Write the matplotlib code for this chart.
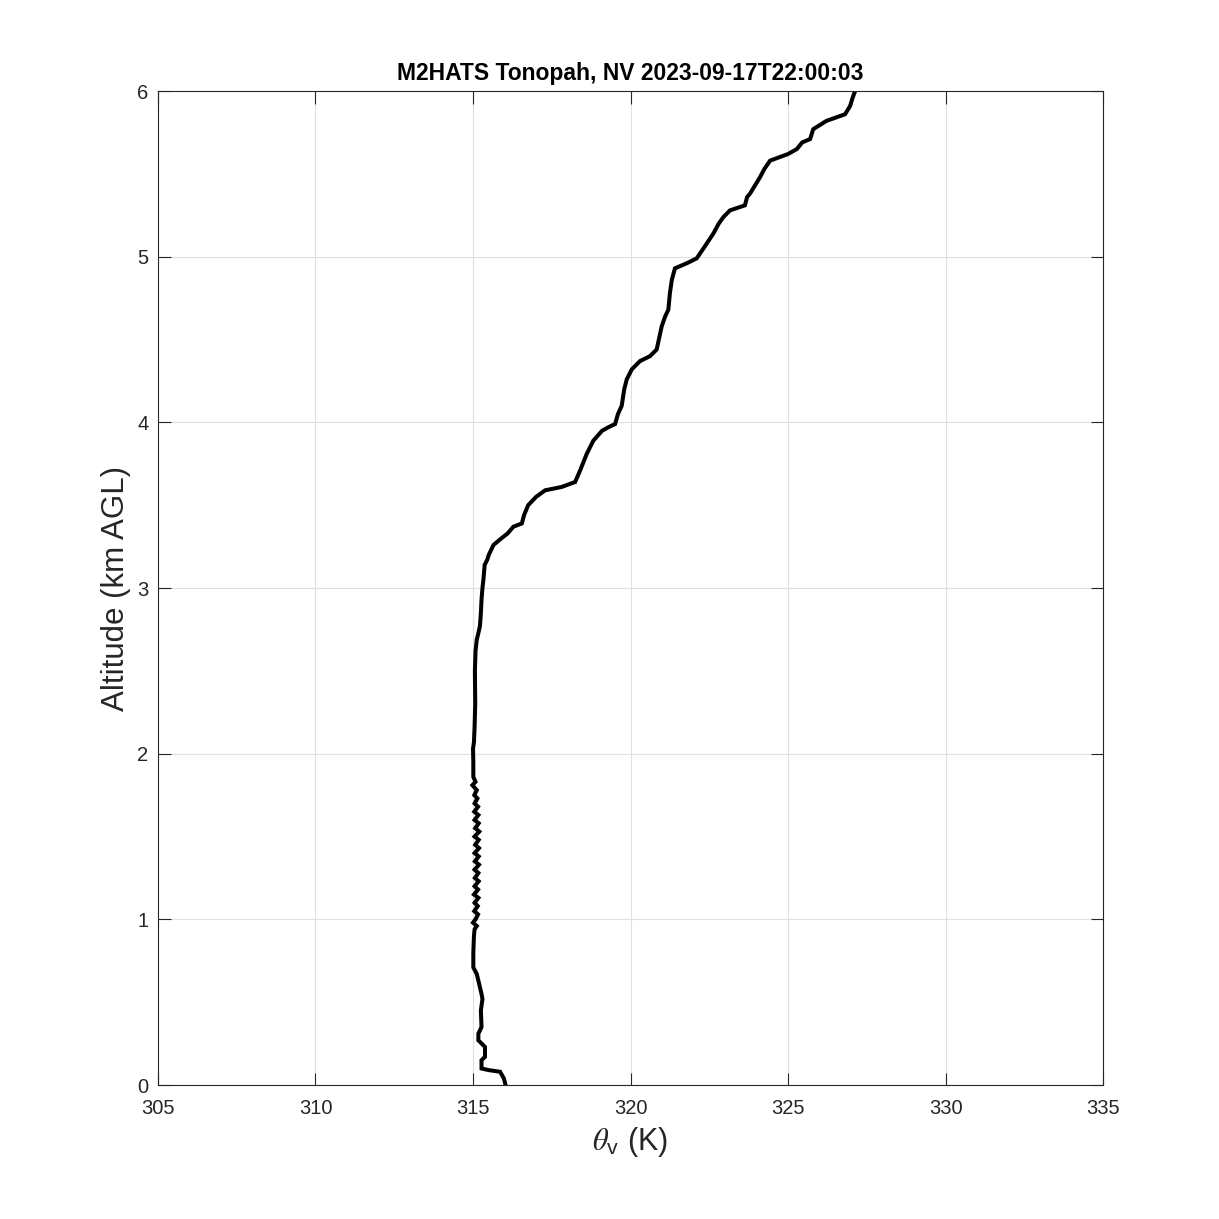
import numpy as np
import matplotlib
matplotlib.use("Agg")
import matplotlib.pyplot as plt

# virtual potential temperature profile
theta_v = [316.02, 315.98, 315.86, 315.50, 315.27, 315.27, 315.38, 315.38, 315.17, 315.17,
           315.27, 315.25, 315.30, 315.27, 315.22, 315.12, 315.01, 315.01, 315.03, 315.05,
           # noisy stretch ~1-1.8 km
           315.12, 315.00, 315.08, 315.16, 315.04, 315.15, 315.05, 315.17, 315.03, 315.16,
           315.05, 315.18, 315.06, 315.17, 315.05, 315.19, 315.06, 315.18, 315.05, 315.19,
           315.07, 315.18, 315.05, 315.20, 315.07, 315.18, 315.05, 315.17, 315.04, 315.16,
           315.05, 315.14, 315.04, 315.12, 314.98, 315.08,
           315.01, 315.01, 315.00, 315.03, 315.05, 315.07, 315.06, 315.08, 315.12, 315.16,
           315.22, 315.25, 315.27, 315.30, 315.33, 315.37, 315.45, 315.50, 315.65, 315.90,
           316.10, 316.28, 316.55, 316.62, 316.75, 317.00, 317.29, 317.81, 318.24, 318.40,
           318.61, 318.82, 319.10, 319.29, 319.51, 319.60, 319.72, 319.80, 319.88, 320.04,
           320.30, 320.62, 320.83, 320.90, 320.99, 321.10, 321.20, 321.25, 321.31, 321.41,
           321.78, 322.10, 322.35, 322.63, 322.80, 322.95, 323.16, 323.63, 323.70, 323.79,
           323.95, 324.11, 324.25, 324.43, 325.00, 325.28, 325.45, 325.70, 325.80, 326.22,
           326.81, 326.97, 327.05, 327.13]
alt_km = [0.01, 0.04, 0.08, 0.09, 0.10, 0.15, 0.17, 0.23, 0.27, 0.31,
          0.35, 0.45, 0.52, 0.55, 0.59, 0.67, 0.71, 0.80, 0.90, 0.94,
          0.96, 0.98, 1.00, 1.03, 1.05, 1.08, 1.10, 1.13, 1.15, 1.18,
          1.20, 1.23, 1.25, 1.28, 1.30, 1.33, 1.35, 1.38, 1.40, 1.43,
          1.45, 1.48, 1.50, 1.53, 1.55, 1.58, 1.60, 1.63, 1.65, 1.68,
          1.70, 1.73, 1.75, 1.78, 1.81, 1.83,
          1.86, 1.95, 2.03, 2.07, 2.16, 2.30, 2.50, 2.62, 2.69, 2.72,
          2.77, 2.85, 2.93, 3.00, 3.05, 3.14, 3.17, 3.20, 3.26, 3.30,
          3.33, 3.37, 3.39, 3.44, 3.50, 3.55, 3.59, 3.61, 3.64, 3.71,
          3.81, 3.89, 3.95, 3.97, 3.99, 4.05, 4.10, 4.20, 4.26, 4.32,
          4.37, 4.40, 4.44, 4.50, 4.58, 4.64, 4.68, 4.78, 4.86, 4.93,
          4.96, 4.99, 5.06, 5.14, 5.20, 5.24, 5.28, 5.31, 5.36, 5.38,
          5.43, 5.48, 5.53, 5.58, 5.62, 5.65, 5.69, 5.71, 5.77, 5.82,
          5.86, 5.91, 5.96, 6.00]

xticks = [305, 310, 315, 320, 325, 330, 335]
yticks = [0, 1, 2, 3, 4, 5, 6]
title = "M2HATS Tonopah, NV 2023-09-17T22:00:03"

plt.rcParams['font.family'] = ['Liberation Sans', 'DejaVu Sans']
plt.rcParams['mathtext.fontset'] = 'custom'
plt.rcParams['mathtext.it'] = 'STIXGeneral:italic'
plt.rcParams['mathtext.rm'] = 'Liberation Sans'
dark = '#262626'

fig = plt.figure(figsize=(12.19, 12.19), dpi=100)
ax = fig.add_axes([0.1296, 0.1099, 0.9049 - 0.1296, 0.9253 - 0.1099])

ax.plot(theta_v, alt_km, color='black', lw=2.9, solid_joinstyle='miter')

ax.set_xlim(305, 335)
ax.set_ylim(0, 6)
ax.set_xticks(xticks)
ax.set_yticks(yticks)
ax.grid(True, color='#e0e0e0', lw=0.8)
ax.set_axisbelow(True)
ax.tick_params(direction='in', length=9, width=0.8, top=True, right=True,
               labelsize=14.5, colors=dark)
ax.tick_params(axis='x', pad=10)
ax.tick_params(axis='y', pad=7)
for s in ax.spines.values():
    s.set_color(dark)
    s.set_linewidth(0.8)

ax.set_xlabel(r'$\theta_\mathrm{v}$ (K)', fontsize=22, color=dark, labelpad=5)
ax.set_ylabel('Altitude (km AGL)', fontsize=22.5, color=dark, labelpad=4)
ax.set_title(title, fontsize=16.5, fontweight='bold', color='black', pad=8)

fig.savefig('out.png', dpi=100, facecolor='white')
